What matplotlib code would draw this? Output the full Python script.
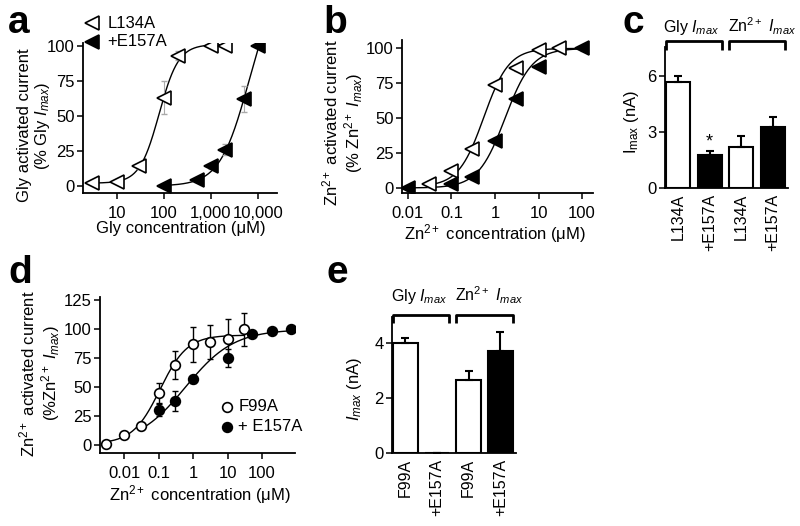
import numpy as np
import matplotlib
matplotlib.use("Agg")
import matplotlib.pyplot as plt
from matplotlib.ticker import FixedLocator, FixedFormatter, LogLocator, NullFormatter

plt.rcParams['font.family'] = ['Liberation Sans', 'DejaVu Sans']
plt.rcParams['mathtext.fontset'] = 'custom'
plt.rcParams['mathtext.rm'] = 'Liberation Sans'
plt.rcParams['mathtext.it'] = 'Liberation Sans:italic'
plt.rcParams['font.size'] = 12

# ---- panel a: glycine dose response ----
a_conc_l134a = [3, 10, 30, 100, 200, 1000, 2000]
a_resp_l134a = [2, 3, 14, 63, 93, 100, 100]
a_err_l134a = [0, 0, 2, 12, 3, 1, 1]
a_conc_e157a = [100, 500, 1000, 2000, 5000, 10000]
a_resp_e157a = [0, 4, 14, 26, 62, 100]
a_err_e157a = [0, 1, 2, 4, 9, 0]
# Hill fit parameters (bottom, top, EC50, nH)
a_fit_l134a = (2, 101, 79, 2.1)
a_fit_e157a = (0, 150, 6430, 1.4)

# ---- panel b: Zn2+ dose response ----
b_conc_l134a = [0.03, 0.1, 0.3, 1, 3, 10, 30]
b_resp_l134a = [3, 12, 28, 74, 86, 99, 100]
b_conc_e157a = [0.01, 0.1, 0.3, 1, 3, 10, 100]
b_resp_e157a = [0, 3, 8, 34, 64, 87, 100]
b_err = 2
b_fit_l134a = (1, 100, 0.55, 1.5)
b_fit_e157a = (0, 100, 1.7, 1.4)

# ---- panel c: Imax bars ----
c_labels = ['L134A', '+E157A', 'L134A', '+E157A']
c_imax = [5.7, 1.75, 2.2, 3.25]
c_err = [0.32, 0.22, 0.6, 0.55]

# ---- panel d: Zn2+ dose response F99A ----
d_conc_f99a = [0.003, 0.01, 0.03, 0.1, 0.3, 1, 3, 10, 30]
d_resp_f99a = [1, 9, 16, 45, 69, 87, 89, 92, 100]
d_err_f99a = [0, 0, 0, 9, 12, 15, 15, 17, 14]
d_conc_e157a = [0.1, 0.3, 1, 10, 50, 200, 700]
d_resp_e157a = [30, 38, 57, 75, 96, 99, 100]
d_err_e157a = [5, 9, 3, 8, 3, 2, 2]
d_fit_f99a = (1, 95, 0.11, 1.1)
d_fit_e157a = (0, 100, 0.6, 0.62)

# ---- panel e: Imax bars F99A ----
e_labels = ['F99A', '+E157A', 'F99A', '+E157A']
e_imax = [4.0, 0, 2.65, 3.7]
e_err = [0.18, 0, 0.32, 0.7]

bar_colors = ['white', 'black', 'white', 'black']

ZN = 'Zn$^{2+}$'
IMAX = '$I_{max}$'


def hill(x, p):
    bottom, top, ec50, n = p
    return bottom + (top - bottom) / (1 + (ec50 / x) ** n)


def style_axes(ax):
    for s in ['top', 'right']:
        ax.spines[s].set_visible(False)
    for s in ['left', 'bottom']:
        ax.spines[s].set_linewidth(1.3)
    ax.tick_params(direction='out', length=4, width=1.1, labelsize=12, pad=2)
    ax.tick_params(axis='x', pad=5)
    ax.tick_params(which='minor', direction='out', length=2, width=0.8)


def log_ticks(ax, ticks, labels):
    ax.set_xscale('log')
    ax.xaxis.set_major_locator(FixedLocator(ticks))
    ax.xaxis.set_major_formatter(FixedFormatter(labels))
    ax.xaxis.set_minor_locator(LogLocator(base=10, subs=np.arange(2, 10)))
    ax.xaxis.set_minor_formatter(NullFormatter())


def bracket(ax, x0, x1, y, leg, text, tx, ty):
    tr = ax.get_xaxis_transform()
    ax.plot([x0, x0, x1, x1], [leg, y, y, leg], color='black', lw=2,
            transform=tr, clip_on=False, solid_capstyle='butt')
    ax.text(tx, ty, text, transform=tr, ha='center', va='baseline', fontsize=11.5)


fig = plt.figure(figsize=(8, 5.26), dpi=100)
W, H = 800, 526


def add_ax(l, r, t, b):
    return fig.add_axes([l / W, 1 - b / H, (r - l) / W, (b - t) / H])


open_tri = dict(marker='<', ms=9.5, mfc='white', mec='black', mew=1.2, ls='none')
fill_tri = dict(marker='<', ms=9.5, mfc='black', mec='black', mew=1.2, ls='none')
open_dot = dict(marker='o', ms=7, mfc='white', mec='black', mew=1.2, ls='none')
fill_dot = dict(marker='o', ms=7, mfc='black', mec='black', mew=1.2, ls='none')

# panel a
ax = add_ax(83, 277, 43, 193)
style_axes(ax)
xs = np.logspace(np.log10(a_conc_l134a[0]), np.log10(a_conc_l134a[-1]), 200)
ax.plot(xs, hill(xs, a_fit_l134a), color='black', lw=1)
xs = np.logspace(np.log10(a_conc_e157a[0]), np.log10(a_conc_e157a[-1]), 200)
ax.plot(xs, hill(xs, a_fit_e157a), color='black', lw=1)
ax.errorbar(a_conc_l134a, a_resp_l134a, yerr=a_err_l134a, fmt='none', ecolor='#aaaaaa', elinewidth=0.8, capsize=2)
ax.errorbar(a_conc_e157a, a_resp_e157a, yerr=a_err_e157a, fmt='none', ecolor='#aaaaaa', elinewidth=0.8, capsize=2)
ax.plot(a_conc_l134a, a_resp_l134a, **open_tri)
ax.plot(a_conc_e157a, a_resp_e157a, **fill_tri)
log_ticks(ax, [10, 100, 1000, 10000], ['10', '100', '1,000', '10,000'])
ax.set_xlim(1.9, 25400)
ax.set_ylim(-5, 102)
ax.set_yticks([0, 25, 50, 75, 100])
ax.set_xlabel('Gly concentration (μM)')
ax.set_ylabel('Gly activated current\n(% Gly ' + IMAX + ')', linespacing=1.1)
ax.yaxis.set_label_coords(-0.16, 0.45)
ax.xaxis.set_label_coords(0.505, -0.19)
ax.xaxis.label.set_va('top')
# legend drawn above the axes
ax.plot([0.046], [1.133], transform=ax.transAxes, clip_on=False, **open_tri)
ax.plot([0.046], [1.007], transform=ax.transAxes, clip_on=False, **fill_tri)
ax.text(0.125, 1.133, 'L134A', transform=ax.transAxes, va='center')
ax.text(0.125, 1.007, '+E157A', transform=ax.transAxes, va='center')

# panel b
ax = add_ax(402, 593, 40, 193)
style_axes(ax)
xs = np.logspace(np.log10(b_conc_l134a[0]), 2, 200)
ax.plot(xs, hill(xs, b_fit_l134a), color='black', lw=1)
xs = np.logspace(np.log10(b_conc_e157a[0]), 2, 200)
ax.plot(xs, hill(xs, b_fit_e157a), color='black', lw=1)
ax.errorbar(b_conc_l134a, b_resp_l134a, yerr=b_err, fmt='none', ecolor='#aaaaaa', elinewidth=0.8, capsize=1.5)
ax.errorbar(b_conc_e157a, b_resp_e157a, yerr=b_err, fmt='none', ecolor='#aaaaaa', elinewidth=0.8, capsize=1.5)
ax.plot(b_conc_l134a, b_resp_l134a, **open_tri)
ax.plot(b_conc_e157a, b_resp_e157a, **fill_tri)
log_ticks(ax, [0.01, 0.1, 1, 10, 100], ['0.01', '0.1', '1', '10', '100'])
ax.set_xlim(0.0073, 178)
ax.set_ylim(-3.6, 106)
ax.set_yticks([0, 25, 50, 75, 100])
ax.set_xlabel(ZN + ' concentration (μM)')
ax.set_ylabel(ZN + ' activated current\n(% ' + ZN + ' ' + IMAX + ')', linespacing=1.1)
ax.yaxis.set_label_coords(-0.194, 0.46)
ax.xaxis.set_label_coords(0.487, -0.19)
ax.xaxis.label.set_va('top')

# panel c
ax = add_ax(665, 788, 47, 188)
style_axes(ax)
pos = np.arange(len(c_imax))
ax.bar(pos, c_imax, width=0.76, color=bar_colors, edgecolor='black', lw=1.5)
ax.errorbar(pos, c_imax, yerr=[[0] * len(c_err), c_err], fmt='none', ecolor='black', elinewidth=1.5, capsize=3, capthick=1.5)
ax.text(pos[1], c_imax[1] + c_err[1] + 0.02, '*', ha='center', va='bottom', fontsize=13)
ax.set_xticks(pos)
ax.set_xticklabels(c_labels, rotation=90, fontsize=11.5)
ax.tick_params(axis='x', length=0, pad=4)
ax.set_yticks([0, 3, 6])
ax.set_xlim(-0.41, 3.47)
ax.set_ylim(0, 7.55)
ax.set_ylabel('I$_{\\rm max}$ (nA)')
ax.yaxis.set_label_coords(-0.195, 0.47)
bracket(ax, -0.38, 1.38, 1.043, 0.979, 'Gly ' + IMAX, 0.43, 1.106)
bracket(ax, 1.62, 3.38, 1.043, 0.979, ZN + ' ' + IMAX, 2.66, 1.106)

# panel d
ax = add_ax(100, 295, 297, 453)
style_axes(ax)
xs = np.logspace(np.log10(d_conc_f99a[0]), np.log10(d_conc_f99a[-1]), 200)
ax.plot(xs, hill(xs, d_fit_f99a), color='black', lw=1)
xs = np.logspace(np.log10(0.03), np.log10(d_conc_e157a[-1]), 200)
ax.plot(xs, hill(xs, d_fit_e157a), color='black', lw=1)
ax.errorbar(d_conc_f99a, d_resp_f99a, yerr=d_err_f99a, fmt='none', ecolor='black', elinewidth=1, capsize=2.5)
ax.errorbar(d_conc_e157a, d_resp_e157a, yerr=d_err_e157a, fmt='none', ecolor='black', elinewidth=1, capsize=2.5)
ax.plot(d_conc_f99a, d_resp_f99a, **open_dot)
ax.plot(d_conc_e157a, d_resp_e157a, **fill_dot)
log_ticks(ax, [0.01, 0.1, 1, 10, 100], ['0.01', '0.1', '1', '10', '100'])
ax.set_xlim(0.002, 900)
ax.set_ylim(-7, 128)
ax.set_yticks([0, 25, 50, 75, 100, 125])
ax.set_xlabel(ZN + ' concentration (μM)')
ax.set_ylabel(ZN + ' activated current\n(%' + ZN + ' ' + IMAX + ')', linespacing=1.1)
ax.yaxis.set_label_coords(-0.195, 0.51)
ax.xaxis.set_label_coords(0.51, -0.19)
ax.xaxis.label.set_va('top')
ax.plot([0.65], [0.295], transform=ax.transAxes, **open_dot)
ax.plot([0.65], [0.167], transform=ax.transAxes, **fill_dot)
ax.text(0.71, 0.295, 'F99A', transform=ax.transAxes, va='center')
ax.text(0.71, 0.167, '+ E157A', transform=ax.transAxes, va='center')

# panel e
ax = add_ax(392, 516, 317, 453)
style_axes(ax)
pos = np.arange(len(e_imax))
ax.bar(pos, e_imax, width=0.78, color=bar_colors, edgecolor='black', lw=1.5)
ax.errorbar(pos, e_imax, yerr=[[0] * len(e_err), e_err], fmt='none', ecolor='black', elinewidth=1.5, capsize=3, capthick=1.5)
ax.set_xticks(pos)
ax.set_xticklabels(e_labels, rotation=90, fontsize=11.5)
ax.tick_params(axis='x', length=0, pad=4)
ax.set_yticks([0, 2, 4])
ax.set_xlim(-0.42, 3.49)
ax.set_ylim(0, 4.95)
ax.set_ylabel(IMAX + ' (nA)')
ax.yaxis.set_label_coords(-0.226, 0.47)
bracket(ax, -0.39, 1.39, 1.015, 0.956, 'Gly ' + IMAX, 0.45, 1.118)
bracket(ax, 1.61, 3.39, 1.015, 0.956, ZN + ' ' + IMAX, 2.64, 1.118)

# panel letters
for letter, x, y in [('a', 8, 33), ('b', 323, 33), ('c', 622, 33), ('d', 8, 283), ('e', 326, 283)]:
    fig.text(x / W, 1 - y / H, letter, fontsize=28, fontweight='bold', va='baseline')

fig.savefig('out.png', dpi=100)
